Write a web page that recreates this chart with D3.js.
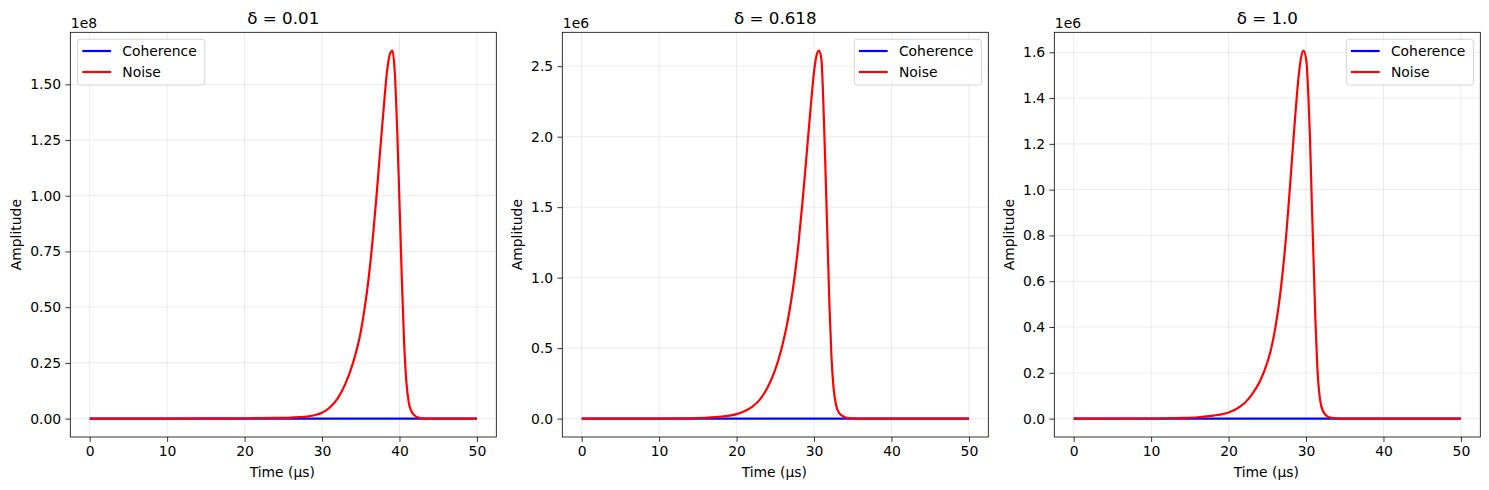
<!DOCTYPE html>
<html>
<head>
<meta charset="utf-8">
<script src="https://cdn.jsdelivr.net/npm/d3@7/dist/d3.min.js"></script>
<style>
  html, body { margin: 0; padding: 0; background: #fff; }
  svg { display: block; font-family: "DejaVu Sans", sans-serif; }
</style>
</head>
<body>
<svg id="chart" width="1489" height="490"></svg>
<script>
// ---------------- data ----------------
const panelTitles = ["δ = 0.01", "δ = 0.618", "δ = 1.0"];
const offsetLabels = ["1e8", "1e6", "1e6"];
const seriesNames = ["Coherence", "Noise"];
const xTicks = [0, 10, 20, 30, 40, 50];

const yTicks1 = [0, 0.25, 0.5, 0.75, 1.0, 1.25, 1.5];
const yTicks2 = [0, 0.5, 1.0, 1.5, 2.0, 2.5];
const yTicks3 = [0, 0.2, 0.4, 0.6, 0.8, 1.0, 1.2, 1.4, 1.6];
const yTickFormats = [".2f", ".1f", ".1f"];

// Coherence (all essentially zero on these scales)
const cohTime = [0, 10, 20, 30, 40, 50];
const coh1 = [0, 0, 0, 0, 0, 0];
const coh2 = [0, 0, 0, 0, 0, 0];
const coh3 = [0, 0, 0, 0, 0, 0];

// Noise, panel 1 (units of 1e8)
const time1 = [0, 10, 15, 20, 24, 26, 27, 28, 29, 30, 31, 32, 33, 34, 35, 35.5, 36, 36.5, 37, 37.5, 38, 38.4, 38.8, 39.1, 39.4, 39.7, 40.0, 40.3, 40.6, 40.9, 41.2, 41.5, 42, 42.5, 43, 44, 50];
const noise1 = [0, 0.0002, 0.0006, 0.0015, 0.003, 0.0045, 0.0065, 0.009, 0.015, 0.026, 0.05, 0.09, 0.155, 0.25, 0.39, 0.495, 0.625, 0.79, 0.985, 1.2, 1.41, 1.56, 1.64, 1.651, 1.55, 1.30, 0.97, 0.63, 0.34, 0.16, 0.072, 0.036, 0.013, 0.004, 0.001, 0, 0];

// Noise, panel 2 (units of 1e6)
const time2 = [0, 10, 14, 16, 18, 20, 21, 22, 23, 24, 25, 25.5, 26, 26.5, 27, 27.5, 28, 28.5, 29, 29.5, 30, 30.3, 30.62, 30.95, 31.2, 31.5, 31.75, 32.0, 32.25, 32.5, 32.85, 33.3, 34, 34.5, 35, 36, 50];
const noise2 = [0, 0.0005, 0.002, 0.006, 0.014, 0.032, 0.052, 0.083, 0.135, 0.22, 0.35, 0.435, 0.54, 0.665, 0.82, 1.01, 1.245, 1.53, 1.845, 2.165, 2.46, 2.57, 2.61, 2.55, 2.25, 1.72, 1.25, 0.79, 0.44, 0.23, 0.095, 0.035, 0.01, 0.003, 0.001, 0, 0];

// Noise, panel 3 (units of 1e6)
const time3 = [0, 10, 12, 14, 16, 18, 20, 21, 22, 23, 24, 25, 25.5, 26, 26.5, 27, 27.5, 28, 28.5, 29, 29.3, 29.67, 30.05, 30.3, 30.5, 30.7, 30.95, 31.2, 31.45, 31.8, 32.2, 32.7, 33.3, 34, 35, 50];
const noise3 = [0, 0.0005, 0.0015, 0.003, 0.006, 0.013, 0.027, 0.042, 0.066, 0.105, 0.16, 0.245, 0.305, 0.39, 0.5, 0.645, 0.825, 1.045, 1.275, 1.48, 1.565, 1.607, 1.56, 1.41, 1.24, 1.0, 0.72, 0.44, 0.23, 0.085, 0.032, 0.011, 0.003, 0.001, 0, 0];

// --------------- layout ---------------
const panels = [
  {left: 70.3,  time: time1, noise: noise1, coh: coh1, yTicks: yTicks1},
  {left: 562.3, time: time2, noise: noise2, coh: coh2, yTicks: yTicks2},
  {left: 1054.3, time: time3, noise: noise3, coh: coh3, yTicks: yTicks3}
];
const axW = 426, axTop = 32.3, axBottom = 437;
const fs = 13.9;
const colors = ["#0000ff", "#ff0000"];

const svg = d3.select("#chart");

panels.forEach((p, i) => {
  const g = svg.append("g").attr("transform", `translate(${p.left},0)`);
  const x = d3.scaleLinear().domain([-2.5, 52.5]).range([0, axW]);
  const ymax = d3.max(p.noise.concat(p.coh));
  const ymin = d3.min(p.noise.concat(p.coh));
  const pad = (ymax - ymin) * 0.05;
  const y = d3.scaleLinear().domain([ymin - pad, ymax + pad]).range([axBottom, axTop]);

  // grid
  const grid = g.append("g");
  grid.selectAll(".gx").data(xTicks).join("line")
    .attr("x1", d => x(d)).attr("x2", d => x(d))
    .attr("y1", axTop).attr("y2", axBottom)
    .attr("stroke", "#b0b0b0").attr("stroke-opacity", 0.3).attr("stroke-width", 0.8);
  grid.selectAll(".gy").data(p.yTicks).join("line")
    .attr("x1", 0).attr("x2", axW)
    .attr("y1", d => y(d)).attr("y2", d => y(d))
    .attr("stroke", "#b0b0b0").attr("stroke-opacity", 0.3).attr("stroke-width", 0.8);

  // lines
  const clipId = "clip" + i;
  g.append("clipPath").attr("id", clipId).append("rect")
    .attr("x", 0).attr("y", axTop).attr("width", axW).attr("height", axBottom - axTop);
  const line = d3.line().x(d => x(d[0])).y(d => y(d[1])).curve(d3.curveMonotoneX);
  const plot = g.append("g").attr("clip-path", `url(#${clipId})`);
  plot.append("path").datum(cohTime.map((t, k) => [t, p.coh[k]]))
    .attr("d", line).attr("fill", "none").attr("stroke", colors[0]).attr("stroke-width", 2.2)
    .attr("stroke-linecap", "butt");
  plot.append("path").datum(p.time.map((t, k) => [t, p.noise[k]]))
    .attr("d", line).attr("fill", "none").attr("stroke", colors[1]).attr("stroke-width", 2.2)
    .attr("stroke-linejoin", "round");

  // axes
  const xAxis = d3.axisBottom(x).tickValues(xTicks).tickSize(4.9).tickPadding(4.2).tickFormat(d3.format("d"));
  const yAxis = d3.axisLeft(y).tickValues(p.yTicks).tickSize(4.9).tickPadding(4.2).tickFormat(d3.format(yTickFormats[i]));
  const gx = g.append("g").attr("transform", `translate(0,${axBottom})`).call(xAxis);
  const gy = g.append("g").call(yAxis);
  [gx, gy].forEach(a => {
    a.select(".domain").remove();
    a.selectAll(".tick line").attr("stroke", "#000").attr("stroke-width", 0.8);
    a.selectAll(".tick text").attr("fill", "#000").style("font-size", fs + "px")
      .style("font-family", "DejaVu Sans, sans-serif");
  });

  // frame
  g.append("rect").attr("x", 0).attr("y", axTop).attr("width", axW).attr("height", axBottom - axTop)
    .attr("fill", "none").attr("stroke", "#000").attr("stroke-width", 0.8);

  // title
  g.append("text").attr("x", axW / 2).attr("y", 23.5).attr("text-anchor", "middle")
    .style("font-size", "16.7px").attr("fill", "#000").text(panelTitles[i]);
  // offset text
  g.append("text").attr("x", 0.5).attr("y", 28).attr("text-anchor", "start")
    .style("font-size", fs + "px").attr("fill", "#000").text(offsetLabels[i]);
  // axis labels
  g.append("text").attr("x", axW / 2 - 1).attr("y", 476.5).attr("text-anchor", "middle")
    .style("font-size", fs + "px").attr("fill", "#000").text("Time (μs)");
  const ylabX = [16, 516.7, 1009.3][i] - p.left;
  g.append("text").attr("transform", `translate(${ylabX + 5},${(axTop + axBottom) / 2}) rotate(-90)`)
    .attr("text-anchor", "middle").style("font-size", fs + "px").attr("fill", "#000").text("Amplitude");

  // legend
  const leg = g.append("g");
  const legBox = leg.append("rect").attr("fill", "#fff").attr("fill-opacity", 0.8)
    .attr("stroke", "#cccccc").attr("stroke-width", 0.8).attr("rx", 2.5).attr("ry", 2.5);
  const rowsY = [51, 72];
  let maxW = 0;
  seriesNames.forEach((name, k) => {
    leg.append("line").attr("x1", 4.6).attr("x2", 33.4).attr("y1", rowsY[k]).attr("y2", rowsY[k])
      .attr("stroke", colors[k]).attr("stroke-width", 2.2);
    const t = leg.append("text").attr("x", 44.6).attr("y", rowsY[k]).attr("dy", "0.36em")
      .style("font-size", fs + "px").attr("fill", "#000").text(name);
    maxW = Math.max(maxW, t.node().getComputedTextLength());
  });
  const legW = 44.6 + maxW + 8;
  legBox.attr("x", 0).attr("y", 39.3).attr("width", legW).attr("height", 45.7);
  const legX = i === 0 ? 7.4 : axW - 6.9 - legW;
  leg.attr("transform", `translate(${legX},0)`);
});
</script>
</body>
</html>
